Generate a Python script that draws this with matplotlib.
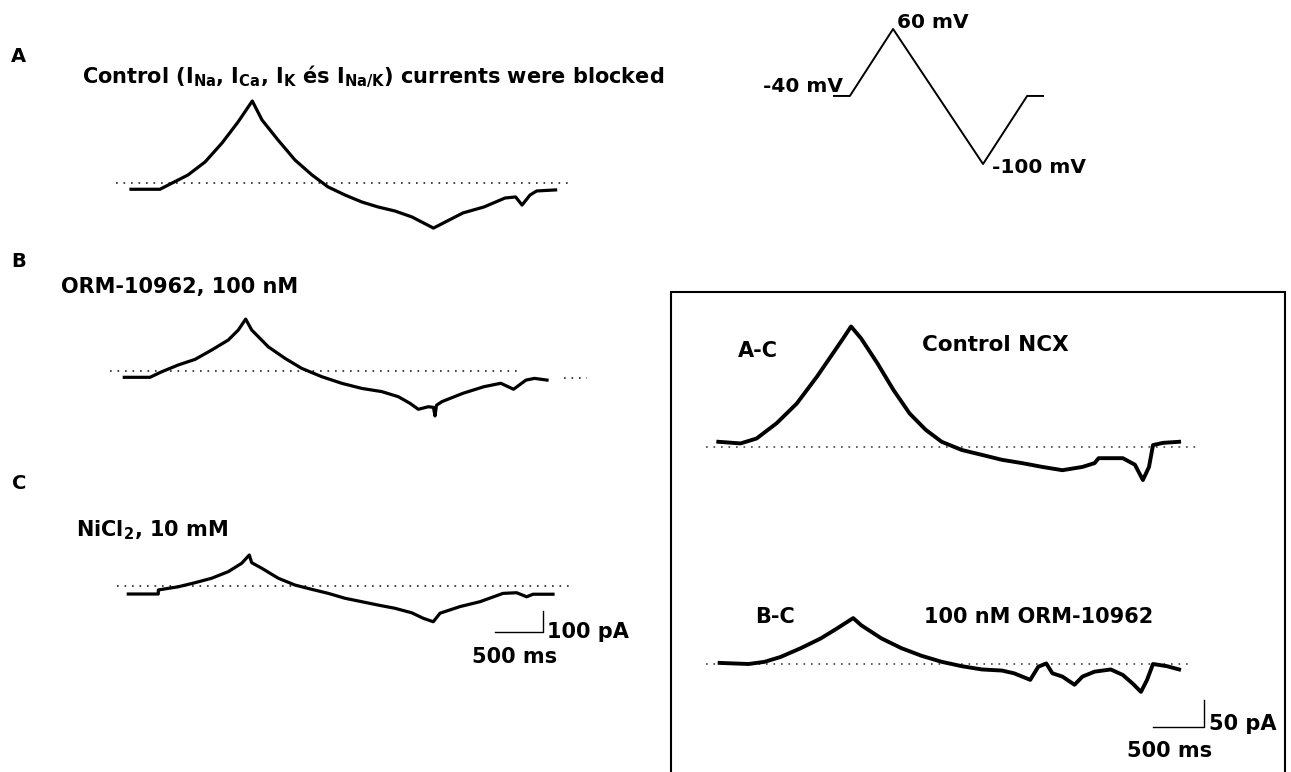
import numpy as np
import matplotlib
matplotlib.use('Agg')
import matplotlib.pyplot as plt
from matplotlib.patches import Rectangle

plt.rcParams['font.family'] = ['DejaVu Sans']
plt.rcParams['mathtext.fontset'] = 'dejavusans'
plt.rcParams['mathtext.default'] = 'bf'

W, H = 1291, 772

# --- traces: time (ms) from start of holding step, current (pA) vs dotted zero line
A_T = [0, 304, 430, 597, 776, 954, 1121, 1271, 1373, 1541,
       1719, 1897, 2065, 2243, 2421, 2589, 2767, 2945, 3170, 3479,
       3699, 3920, 4031, 4098, 4182, 4251, 4450]
A_I = [-28, -28, 1, 39, 100, 189, 287, 386, 297, 203,
       109, 39, -17, -55, -88, -111, -130, -158, -210, -139,
       -111, -69, -64, -102, -55, -36, -31]

B_T = [0, 269, 392, 566, 741, 916, 1090, 1195, 1272, 1335,
       1509, 1684, 1859, 2069, 2278, 2488, 2698, 2872, 2994, 3081,
       3186, 3240, 3256, 3272, 3329, 3549, 3769, 3946, 4079, 4210,
       4299, 4430]
B_I = [-31, -31, -5, 27, 53, 97, 144, 191, 242, 191,
       112, 58, 11, -28, -59, -83, -98, -122, -153, -181,
       -169, -172, -212, -162, -145, -106, -75, -59, -87, -44,
       -36, -44]

C_T = [0, 314, 315, 524, 699, 874, 1048, 1188, 1268, 1293,
       1398, 1572, 1747, 1922, 2096, 2271, 2446, 2620, 2795, 2970,
       3092, 3196, 3267, 3476, 3686, 3927, 4070, 4175, 4241, 4451]
C_I = [-39, -39, -20, -5, 14, 35, 66, 105, 144, 108,
       82, 35, 3, -17, -36, -59, -75, -91, -106, -127,
       -153, -169, -129, -98, -75, -36, -33, -52, -40, -40]

# difference currents (NCX)
AC_T = [0, 218, 375, 572, 769, 966, 1124, 1223, 1301, 1400,
        1558, 1716, 1874, 2032, 2189, 2386, 2584, 2780, 2976, 3175,
        3372, 3569, 3688, 3727, 3964, 4083, 4161, 4221, 4260, 4358,
        4516]
AC_I = [9, 6, 15, 43, 79, 128, 171, 198, 220, 198,
        153, 104, 61, 31, 9, -6, -15, -24, -30, -37,
        -43, -37, -30, -21, -21, -33, -61, -37, 3, 7,
        9]

BC_T = [13, 296, 454, 612, 809, 1006, 1163, 1322, 1400, 1597,
        1794, 1992, 2189, 2386, 2584, 2780, 2898, 3057, 3136, 3214,
        3274, 3372, 3491, 3569, 3688, 3846, 3964, 4062, 4142, 4202,
        4260, 4397, 4516]
BC_I = [2, 0, 4, 13, 29, 47, 65, 84, 71, 47,
        29, 15, 4, -4, -10, -12, -17, -29, -5, 1,
        -17, -23, -38, -23, -14, -10, -20, -36, -51, -29,
        0, -4, -10]

# dotted zero lines (start/end in ms)
A_ZERO = [-157, 4622]
B_ZERO = [-149, 4115]
C_ZERO = [-118, 4651]
AC_ZERO = [-121, 4713]
BC_ZERO = [-121, 4615]
B_EXTRA_T = [4608, 4849]      # loose dots right of trace B
B_EXTRA_I = [-33, -33]

# voltage protocol
PROTO_T = [0, 360, 1340, 3380, 4380, 4740]
PROTO_V = [-40, -40, 60, -100, -40, -40]
PROTO_HOLD_FRAC = 0.504        # where -40 mV sits in the drawn schematic

SCALE_MS = 500
SCALE_PA_LEFT = 100
SCALE_PA_INSET = 50

fig = plt.figure(figsize=(W / 100, H / 100), dpi=100)


def px_rect(left, top, right, bottom):
    return [left / W, 1 - bottom / H, (right - left) / W, (bottom - top) / H]


def trace_axes(x0, y0, ms_px, pa_px, xlim, ylim):
    left = x0 + xlim[0] / ms_px
    right = x0 + xlim[1] / ms_px
    top = y0 - ylim[1] / pa_px
    bottom = y0 - ylim[0] / pa_px
    ax = fig.add_axes(px_rect(left, top, right, bottom))
    ax.set_xlim(xlim)
    ax.set_ylim(ylim)
    ax.axis('off')
    return ax


def label(x, y, s, size=15, **kw):
    fig.text(x / W, 1 - y / H, s, fontsize=size, fontweight='bold',
             ha=kw.pop('ha', 'left'), va='baseline', **kw)


def zero_line(ax, t_span, i_span=(0, 0), color='#222222'):
    ax.plot(t_span, i_span, color=color, lw=1.2, ls=(0, (1, 3.5)), clip_on=False)


LEFT_MS_PX, LEFT_PA_PX = 10.48, 4.69
INSET_MS_PX, INSET_PA_PX = 9.8, 1.83

# panel A
ax_a = trace_axes(131, 183.3, LEFT_MS_PX, LEFT_PA_PX, (-300, 5000), (-260, 420))
zero_line(ax_a, A_ZERO)
ax_a.plot(A_T, A_I, color='black', lw=2.3, clip_on=False)

# panel B
ax_b = trace_axes(124.3, 370.7, LEFT_MS_PX, LEFT_PA_PX, (-300, 5000), (-260, 300))
zero_line(ax_b, B_ZERO)
zero_line(ax_b, B_EXTRA_T, B_EXTRA_I)
ax_b.plot(B_T, B_I, color='black', lw=2.3, clip_on=False)

# panel C with scale bar
ax_c = trace_axes(128.3, 585.7, LEFT_MS_PX, LEFT_PA_PX, (-300, 5000), (-260, 200))
zero_line(ax_c, C_ZERO)
ax_c.plot(C_T, C_I, color='black', lw=2.3, clip_on=False)
bar_t, bar_i = 3843, -219
ax_c.plot([bar_t, bar_t + SCALE_MS, bar_t + SCALE_MS],
          [bar_i, bar_i, bar_i + SCALE_PA_LEFT], color='black', lw=1.0, clip_on=False)

# inset traces
ax_ac = trace_axes(718.3, 446.7, INSET_MS_PX, INSET_PA_PX, (-200, 4900), (-90, 240))
zero_line(ax_ac, AC_ZERO, color='#444444')
ax_ac.plot(AC_T, AC_I, color='black', lw=2.8, clip_on=False)

ax_bc = trace_axes(718.3, 664, INSET_MS_PX, INSET_PA_PX, (-200, 4900), (-130, 120))
zero_line(ax_bc, BC_ZERO, color='#444444')
ax_bc.plot(BC_T, BC_I, color='black', lw=2.8, clip_on=False)
bar_t, bar_i = 4260, -116
ax_bc.plot([bar_t, bar_t + SCALE_MS, bar_t + SCALE_MS],
           [bar_i, bar_i, bar_i + SCALE_PA_INSET], color='black', lw=1.0, clip_on=False)

# voltage protocol schematic
ax_v = fig.add_axes(px_rect(834, 29, 1043, 164))


def _fwd(v):
    return np.interp(v, [-100, -40, 60], [0, PROTO_HOLD_FRAC, 1])


def _inv(u):
    return np.interp(u, [0, PROTO_HOLD_FRAC, 1], [-100, -40, 60])


ax_v.set_yscale('function', functions=(_fwd, _inv))
ax_v.set_xlim(0, 4740)
ax_v.set_ylim(-100, 60)
ax_v.axis('off')
ax_v.plot(PROTO_T, PROTO_V, color='black', lw=1.4, clip_on=False)

# inset frame
fig.add_artist(Rectangle((671 / W, -5 / H), (1285 - 671) / W, (H + 5 - 292) / H,
                         transform=fig.transFigure, fill=False, lw=1.5, ec='black'))

# texts
label(11, 61.7, 'A', size=14)
label(11, 266.7, 'B', size=14)
label(12, 489.3, 'C', size=14)
label(82, 83, r'Control (I$_{Na}$, I$_{Ca}$, I$_{K}$ és I$_{Na/K}$) currents were blocked')
label(61, 293, 'ORM-10962, 100 nM')
label(76, 536, r'NiCl$_2$, 10 mM')
label(547, 638.3, '100 pA')
label(472, 662.7, '500 ms')

label(763, 91.7, '-40 mV', size=14.5)
label(897, 28, '60 mV', size=14.5)
label(992, 173, '-100 mV', size=14.5)

label(738, 356.7, 'A-C')
label(922, 351, 'Control NCX', size=15.5)
label(755, 623, 'B-C')
label(924, 623, '100 nM ORM-10962')
label(1209, 730, '50 pA')
label(1127, 756.7, '500 ms')

fig.savefig('out.png', dpi=100, facecolor='white')
